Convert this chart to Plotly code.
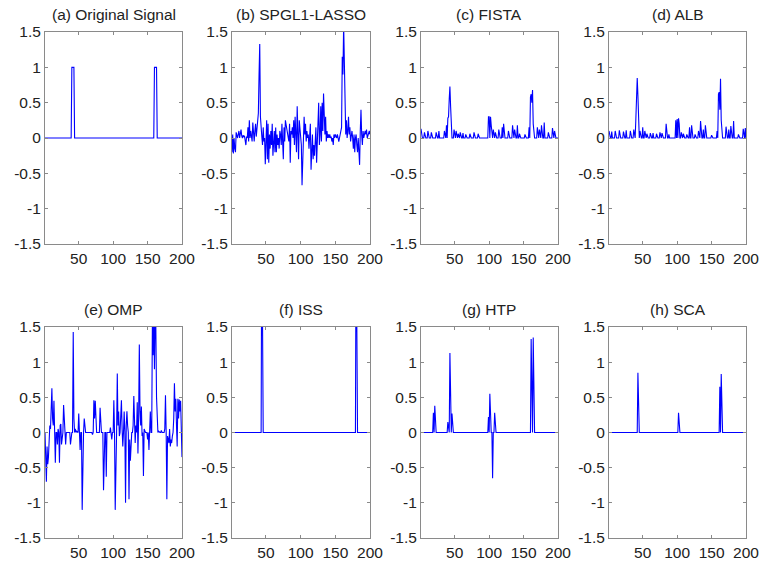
import plotly.graph_objects as go

N = 200
x_idx = list(range(1, N + 1))

titles = ["(a) Original Signal", "(b) SPGL1-LASSO", "(c) FISTA", "(d) ALB",
          "(e) OMP", "(f) ISS", "(g) HTP", "(h) SCA"]

# (a) original sparse signal: nonzero indices / values
orig_idx = [40, 41, 42, 43, 160, 161, 162, 163]
orig_val = [1, 1, 1, 1, 1, 1, 1, 1]

# (b) SPGL1-LASSO (dense estimate)
spgl1_val = [
    -0.2, 0.05, -0.22, 0.0, -0.15, -0.2, 0.08, 0.02, 0.0, 0.05,
    0.1, 0.0, 0.05, 0.12, 0.03, 0.0, 0.04, 0.02, 0.03, -0.02,
    -0.1, 0.02, 0.0, 0.15, -0.05, 0.25, 0.0, 0.1, 0.03, -0.05,
    0.22, 0.05, -0.05, 0.1, 0.2, 0.02, 0.15, 0.25, 0.35, 0.9,
    1.33, 0.3, 0.05, 0.02, -0.1, 0.15, -0.05, 0.0, -0.37, 0.1,
    0.25, -0.3, 0.2, -0.35, 0.05, -0.15, 0.1, -0.1, 0.2, -0.25,
    0.0, 0.1, -0.2, 0.15, -0.2, 0.05, -0.1, 0.0, -0.15, 0.1,
    0.05, -0.1, 0.2, 0.0, -0.3, 0.15, -0.05, 0.25, 0.18, 0.1,
    0.05, 0.0, -0.05, 0.2, -0.35, 0.1, 0.05, 0.15, 0.0, 0.25,
    -0.1, 0.3, 0.1, -0.2, 0.45, 0.2, -0.3, 0.25, 0.15, 0.1,
    -0.1, -0.67, -0.2, 0.1, 0.3, 0.05, 0.2, -0.05, 0.1, 0.0,
    0.05, -0.15, 0.0, 0.2, -0.45, -0.1, 0.05, -0.3, -0.1, -0.25,
    -0.05, 0.15, -0.35, 0.0, 0.1, 0.5, -0.1, 0.05, 0.45, -0.05,
    0.5, 0.1, 0.63, 0.2, 0.05, 0.3, -0.05, 0.1, 0.0, 0.05,
    0.0, 0.05, 0.0, 0.02, -0.05, 0.0, -0.1, 0.05, 0.0, 0.05,
    0.02, 0.0, 0.05, 0.0, -0.05, 0.0, 0.05, 0.1, 0.15, 1.15,
    0.9, 1.6, 1.0, 0.3, 0.05, 0.25, 0.0, 0.1, 0.3, 0.05,
    0.15, -0.05, 0.0, 0.1, 0.0, -0.15, 0.05, -0.2, 0.0, 0.05,
    -0.1, -0.2, 0.0, -0.3, -0.38, 0.1, 0.4, 0.05, -0.1, 0.1,
    0.0, 0.05, 0.1, 0.05, 0.12, 0.0, 0.05, 0.1, 0.1, 0.05,
]

# (c) FISTA nonzeros
fista_idx = [1, 6, 11, 16, 23, 27, 35, 38, 40, 41, 42, 43, 44, 45, 49, 52, 55, 58,
             62, 66, 72, 78, 84, 99, 100, 102, 103, 106, 109, 114, 119, 121, 128,
             134, 137, 141, 144, 152, 158, 160, 161, 162, 163, 164, 170, 173, 176,
             180, 186, 192, 195]
fista_val = [0.13, 0.08, 0.1, 0.08, 0.08, 0.1, 0.1, 0.18, 0.28, 0.3, 0.55, 0.73,
             0.45, 0.15, 0.12, 0.1, 0.06, 0.08, 0.07, 0.05, 0.06, 0.08, 0.06, 0.3,
             0.3, 0.3, 0.18, 0.12, 0.08, 0.12, 0.15, 0.2, 0.1, 0.18, 0.12, 0.18,
             0.06, 0.05, 0.15, 0.58, 0.62, 0.5, 0.68, 0.2, 0.15, 0.12, 0.18, 0.22,
             0.08, 0.14, 0.1]

# (d) ALB nonzeros
alb_idx = [1, 5, 10, 16, 22, 26, 32, 37, 40, 41, 42, 43, 44, 46, 50, 53, 56, 61,
           65, 70, 75, 78, 84, 88, 98, 100, 102, 103, 106, 109, 114, 118, 121, 126,
           131, 134, 138, 141, 150, 158, 160, 161, 162, 163, 164, 171, 175, 178,
           182, 189, 196, 199]
alb_val = [0.1, 0.09, 0.1, 0.11, 0.09, 0.11, 0.1, 0.12, 0.27, 0.5, 0.85, 0.6,
           0.27, 0.1, 0.15, 0.1, 0.06, 0.07, 0.07, 0.06, 0.08, 0.07, 0.2, 0.05,
           0.25, 0.27, 0.28, 0.2, 0.08, 0.06, 0.05, 0.15, 0.18, 0.05, 0.1, 0.24,
           0.12, 0.18, 0.04, 0.1, 0.62, 0.65, 0.4, 0.84, 0.25, 0.16, 0.12, 0.17,
           0.24, 0.05, 0.13, 0.14]

# (e) OMP nonzeros
omp_idx = [2, 3, 4, 5, 6, 7, 8, 9, 10, 11, 12, 13, 14, 15, 16, 19, 20, 22, 23, 24,
           25, 28, 29, 31, 38, 42, 43, 45, 47, 50, 51, 52, 55, 58, 59, 70, 72, 73,
           74, 75, 81, 86, 90, 96, 98, 101, 103, 106, 107, 108, 109, 111, 112, 113,
           114, 116, 118, 119, 120, 121, 123, 124, 125, 129, 130, 132, 133, 135,
           136, 137, 138, 139, 140, 141, 142, 144, 145, 150, 152, 154, 157, 158,
           159, 160, 161, 162, 163, 164, 166, 170, 175, 176, 178, 179, 180, 181,
           182, 183, 184, 185, 186, 188, 189, 190, 191, 192, 193, 194, 195, 196,
           197, 198, 200]
omp_val = [-0.3, -0.7, -0.2, -0.45, -0.35, 0.05, 0.1, 0.05, 0.35, 0.63, 0.2, 0.1,
           0.45, 0.1, -0.43, -0.17, 0.05, -0.43, 0.1, 0.12, -0.17, 0.39, 0.1,
           -0.17, -0.17, 1.43, 0.2, 0.05, 0.02, 0.27, 0.05, -0.25, -1.1, 0.2, 0.05,
           -0.03, 0.46, 0.2, 0.45, 0.1, 0.35, -0.82, -0.63, 0.07, -0.1, 0.46, -1.1,
           0.84, 0.1, 0.3, -0.05, 0.2, 0.46, 0.05, -0.2, 0.3, -1.0, 0.1, 0.3, 0.1,
           -0.95, -0.1, -0.4, 0.1, 0.52, -0.15, 0.1, 0.43, -0.3, 0.2, 1.25, 0.3,
           0.1, 0.37, -0.05, -0.62, 0.05, -0.1, -0.25, 0.3, 1.6, 1.1, 1.8, 0.9,
           1.7, 1.5, 0.5, 0.05, 0.02, 0.03, 0.05, 0.53, -0.95, -0.05, -0.1, -0.15,
           0.05, -0.2, -0.1, -0.15, -0.05, 0.2, 0.7, 0.3, 0.48, 0.1, -0.2, 0.48,
           0.2, 0.47, 0.3, 0.45, -0.35]

# (f) ISS nonzeros
iss_idx = [44, 180]
iss_val = [3.2, 3.1]

# (g) HTP nonzeros
htp_idx = [19, 21, 40, 43, 46, 99, 101, 105, 108, 161, 164]
htp_val = [0.28, 0.38, 0.15, 1.13, 0.27, 0.22, 0.55, -0.65, 0.28, 1.33, 1.35]

# (h) SCA nonzeros
sca_idx = [43, 102, 162, 164]
sca_val = [0.85, 0.28, 0.65, 0.83]

x_ticks = [50, 100, 150, 200]
y_ticks = [-1.5, -1, -0.5, 0, 0.5, 1, 1.5]
y_tick_text = ["-1.5", "-1", "-0.5", "0", "0.5", "1", "1.5"]


def dense(idx, val):
    arr = [0.0] * N
    for i, v in zip(idx, val):
        arr[i - 1] = v
    return arr


series = [
    dense(orig_idx, orig_val),
    spgl1_val,
    dense(fista_idx, fista_val),
    dense(alb_idx, alb_val),
    dense(omp_idx, omp_val),
    dense(iss_idx, iss_val),
    dense(htp_idx, htp_val),
    dense(sca_idx, sca_val),
]

W, H = 760, 563
col_px = [(45, 182), (232, 370), (421, 558), (609, 746)]
row_px = [(32, 244), (327, 538)]

fig = go.Figure()
FONT = "Liberation Sans, Arial, sans-serif"
FS = 15.5
AXC = "#8a8a8a"
TXT = "#222222"

layout = dict(
    width=W, height=H,
    margin=dict(l=0, r=0, t=0, b=0, autoexpand=False),
    paper_bgcolor="white", plot_bgcolor="white",
    showlegend=False,
    font=dict(family=FONT, size=FS, color=TXT),
)
annotations = []
for k in range(8):
    r, c = divmod(k, 4)
    n = "" if k == 0 else str(k + 1)
    xd = [col_px[c][0] / W, col_px[c][1] / W]
    yd = [1 - row_px[r][1] / H, 1 - row_px[r][0] / H]
    fig.add_trace(go.Scatter(
        x=x_idx, y=series[k], mode="lines",
        line=dict(color="#0000ff", width=1.1),
        xaxis="x" + n, yaxis="y" + n, hoverinfo="skip",
    ))
    layout["xaxis" + n] = dict(
        domain=xd, range=[1, 200], anchor="y" + n, automargin=False,
        tickmode="array", tickvals=x_ticks,
        ticks="inside", ticklen=3, tickcolor=AXC,
        showline=True, linecolor=AXC, linewidth=1, mirror="ticks",
        showgrid=False, zeroline=False,
        tickfont=dict(family=FONT, size=FS, color=TXT),
    )
    layout["yaxis" + n] = dict(
        domain=yd, range=[-1.5, 1.5], anchor="x" + n, automargin=False,
        tickmode="array", tickvals=y_ticks, ticktext=y_tick_text,
        ticks="inside", ticklen=3, tickcolor=AXC,
        showline=True, linecolor=AXC, linewidth=1, mirror="ticks",
        showgrid=False, zeroline=False,
        tickfont=dict(family=FONT, size=FS, color=TXT),
    )
    annotations.append(dict(
        text=titles[k], x=(xd[0] + xd[1]) / 2, y=yd[1],
        xref="paper", yref="paper", xanchor="center", yanchor="bottom",
        yshift=7, showarrow=False,
        font=dict(family=FONT, size=FS, color=TXT),
    ))
layout["annotations"] = annotations
fig.update_layout(**layout)
fig.write_html("out.html")
